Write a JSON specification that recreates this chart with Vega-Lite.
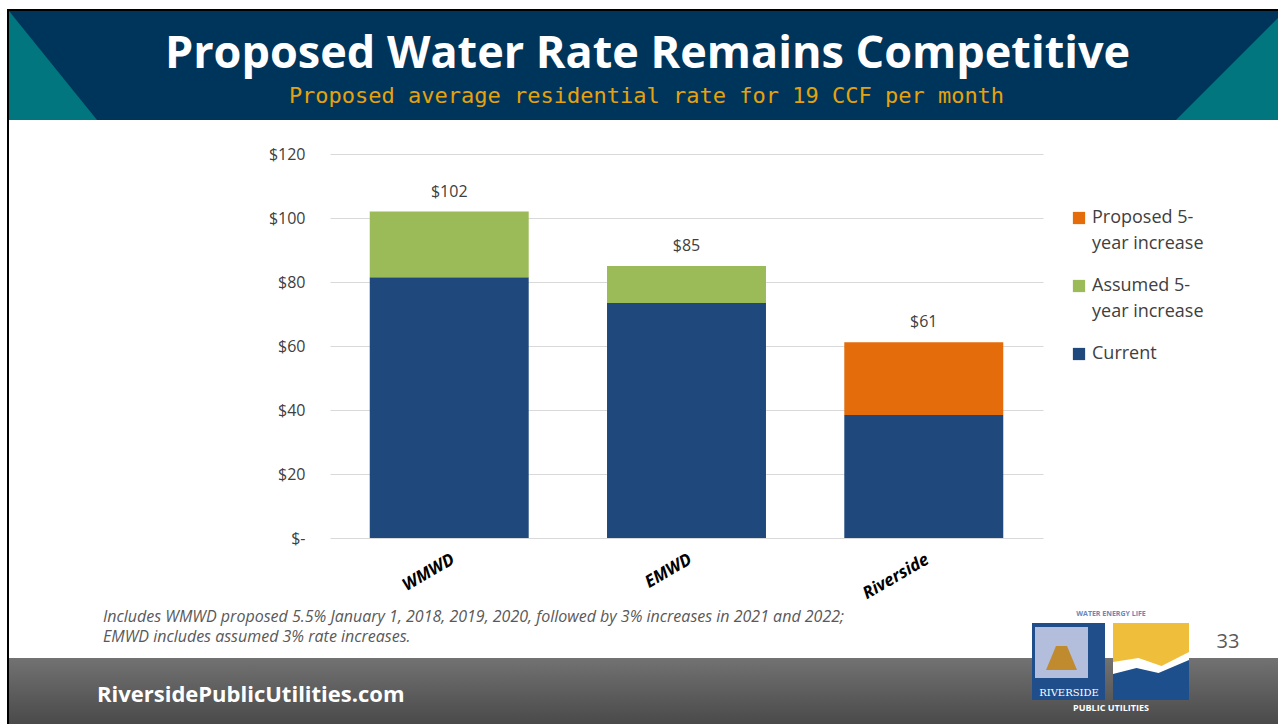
{
  "$schema": "https://vega.github.io/schema/vega-lite/v6.json",
  "width": 713,
  "height": 384,
  "autosize": {"type": "none"},
  "padding": {"left": 330, "top": 154, "right": 235, "bottom": 186},
  "background": "white",
  "config": {"font": "Open Sans", "view": {"stroke": null}},
  "datasets": {
    "rates": [
      {"utility": "WMWD", "component": "Current", "value": 81.5},
      {"utility": "WMWD", "component": "Assumed 5-year increase", "value": 20.5},
      {"utility": "EMWD", "component": "Current", "value": 73.4},
      {"utility": "EMWD", "component": "Assumed 5-year increase", "value": 11.6},
      {"utility": "Riverside", "component": "Current", "value": 38.4},
      {"utility": "Riverside", "component": "Proposed 5-year increase", "value": 22.8}
    ],
    "slide": [
      {
        "title": "Proposed Water Rate Remains Competitive",
        "subtitle": "Proposed average residential rate for 19 CCF per month",
        "note": "Includes WMWD proposed 5.5% January 1, 2018, 2019, 2020, followed by 3% increases in 2021 and 2022;\nEMWD includes assumed 3% rate increases.",
        "page": "33",
        "site": "RiversidePublicUtilities.com",
        "logoTop": "WATER  ENERGY  LIFE",
        "logoCity": "RIVERSIDE",
        "logoBottom": "PUBLIC UTILITIES"
      }
    ]
  },
  "layer": [
    {"data": {"name": "slide"}, "mark": {"type": "point", "shape": "M -6.775 -3.35 L 5.915 -3.35 L 5.915 -2.26 L -6.775 -2.26 Z", "size": 40000, "filled": true, "fill": "#00355b", "opacity": 1, "strokeWidth": 0}, "encoding": {}},
    {"data": {"name": "slide"}, "mark": {"type": "point", "shape": "M -6.775 -3.35 L -6.775 -2.26 L -5.895 -2.26 Z", "size": 40000, "filled": true, "fill": "#02767e", "opacity": 1, "strokeWidth": 0}, "encoding": {}},
    {"data": {"name": "slide"}, "mark": {"type": "point", "shape": "M 5.915 -3.28 L 5.915 -2.26 L 4.895 -2.26 Z", "size": 40000, "filled": true, "fill": "#02767e", "opacity": 1, "strokeWidth": 0}, "encoding": {}},
    {"data": {"name": "slide"}, "mark": {"type": "text", "fontSize": 45, "fontWeight": "bold", "color": "white", "align": "center", "baseline": "alphabetic", "dx": -39, "dy": -278}, "encoding": {"text": {"field": "title"}}},
    {"data": {"name": "slide"}, "mark": {"type": "text", "font": "DejaVu Sans Mono", "fontSize": 22, "color": "#e6a20c", "align": "center", "baseline": "alphabetic", "dx": -40, "dy": -243}, "encoding": {"text": {"field": "subtitle"}}},
    {
      "data": {"name": "rates"},
      "mark": {"type": "bar"},
      "encoding": {
        "x": {
          "field": "utility", "type": "nominal", "sort": ["WMWD", "EMWD", "Riverside"],
          "scale": {"paddingInner": 0.33, "paddingOuter": 0.1675},
          "axis": {"title": null, "labelAngle": -30, "labelFontSize": 17, "labelFontWeight": "bold", "labelFontStyle": "italic", "labelColor": "#000000", "domain": false, "ticks": false, "labelPadding": 13}
        },
        "y": {
          "field": "value", "type": "quantitative", "stack": "zero",
          "scale": {"domain": [0, 120], "nice": false},
          "axis": {"title": null, "values": [0, 20, 40, 60, 80, 100, 120], "labelExpr": "datum.value == 0 ? '$-' : '$' + datum.value", "domain": false, "ticks": false, "labelPadding": 25, "labelFontSize": 16, "labelColor": "#404040", "gridColor": "#d9d9d9", "gridWidth": 1}
        },
        "order": {"field": "value", "type": "quantitative", "sort": "descending"},
        "color": {
          "field": "component", "type": "nominal",
          "scale": {"domain": ["Proposed 5-year increase", "Assumed 5-year increase", "Current"], "range": ["#e46c0a", "#9bbb59", "#1f497d"]},
          "legend": {
            "title": null, "orient": "none", "legendX": 740, "legendY": 55,
            "symbolType": "square", "symbolSize": 150, "symbolStrokeWidth": 0,
            "labelFontSize": 18, "labelColor": "#404040", "labelOffset": 4, "rowPadding": 24, "padding": 0, "labelLimit": 200,
            "labelExpr": "indexof(datum.label, '-') > 0 ? [split(datum.label, '-')[0] + '-', split(datum.label, '-')[1]] : datum.label",
            "encode": {"labels": {"update": {"lineHeight": {"value": 26}}}}
          }
        }
      }
    },
    {
      "data": {"name": "rates"},
      "transform": [{"aggregate": [{"op": "sum", "field": "value", "as": "total"}], "groupby": ["utility"]}],
      "mark": {"type": "text", "dy": -20, "fontSize": 16, "color": "#404040", "baseline": "middle"},
      "encoding": {
        "x": {"field": "utility", "type": "nominal", "sort": ["WMWD", "EMWD", "Riverside"]},
        "y": {"field": "total", "type": "quantitative"},
        "text": {"field": "total", "type": "quantitative", "format": "$,.0f"}
      }
    },
    {"data": {"name": "slide"}, "mark": {"type": "text", "align": "left", "baseline": "alphabetic", "dx": -583.5, "dy": 275.5, "fontSize": 16, "fontStyle": "italic", "color": "#595959", "lineBreak": "\n", "lineHeight": 20}, "encoding": {"text": {"field": "note"}}},
    {"data": {"name": "slide"}, "mark": {"type": "text", "align": "center", "baseline": "alphabetic", "dx": 541.5, "dy": 302, "fontSize": 20, "color": "#595959"}, "encoding": {"text": {"field": "page"}}},
    {"data": {"name": "slide"}, "mark": {"type": "point", "shape": "M -6.775 3.12 L 5.915 3.12 L 5.915 3.78 L -6.775 3.78 Z", "size": 40000, "filled": true, "fill": {"gradient": "linear", "x1": 0, "y1": 0, "x2": 0, "y2": 1, "stops": [{"offset": 0, "color": "#727272"}, {"offset": 1, "color": "#4a4a4a"}]}, "opacity": 1, "strokeWidth": 0}, "encoding": {}},
    {"data": {"name": "slide"}, "mark": {"type": "text", "align": "left", "baseline": "alphabetic", "dx": -589.5, "dy": 355.7, "fontSize": 22, "fontWeight": "bold", "color": "white"}, "encoding": {"text": {"field": "site"}}},
    {"data": {"name": "slide"}, "mark": {"type": "point", "shape": "M 3.455 2.77 L 4.185 2.77 L 4.185 3.54 L 3.455 3.54 Z", "size": 40000, "filled": true, "fill": "#1f4e8a", "opacity": 1, "strokeWidth": 0}, "encoding": {}},
    {"data": {"name": "slide"}, "mark": {"type": "point", "shape": "M 3.485 2.81 L 4.015 2.81 L 4.015 3.32 L 3.485 3.32 Z", "size": 40000, "filled": true, "fill": "#b3bedc", "opacity": 1, "strokeWidth": 0}, "encoding": {}},
    {"data": {"name": "slide"}, "mark": {"type": "point", "shape": "M 3.695 3.00 L 3.805 3.00 L 3.905 3.24 L 3.595 3.24 Z", "size": 40000, "filled": true, "fill": "#c08a2e", "opacity": 1, "strokeWidth": 0}, "encoding": {}},
    {"data": {"name": "slide"}, "mark": {"type": "point", "shape": "M 4.265 2.77 L 5.025 2.77 L 5.025 3.54 L 4.265 3.54 Z", "size": 40000, "filled": true, "fill": "#ffffff", "opacity": 1, "strokeWidth": 0}, "encoding": {}},
    {"data": {"name": "slide"}, "mark": {"type": "point", "shape": "M 4.265 2.77 L 5.025 2.77 L 5.025 3.06 L 4.75 3.20 L 4.52 3.12 L 4.265 3.16 Z", "size": 40000, "filled": true, "fill": "#efbe3b", "opacity": 1, "strokeWidth": 0}, "encoding": {}},
    {"data": {"name": "slide"}, "mark": {"type": "point", "shape": "M 4.265 3.28 L 4.50 3.22 L 4.72 3.27 L 5.025 3.14 L 5.025 3.54 L 4.265 3.54 Z", "size": 40000, "filled": true, "fill": "#1c4f8c", "opacity": 1, "strokeWidth": 0}, "encoding": {}},
    {"data": {"name": "slide"}, "mark": {"type": "text", "align": "center", "baseline": "middle", "dx": 424.5, "dy": 268, "fontSize": 7, "fontWeight": "bold", "color": "#6b86b8"}, "encoding": {"text": {"field": "logoTop"}}},
    {"data": {"name": "slide"}, "mark": {"type": "text", "align": "center", "baseline": "middle", "dx": 382.5, "dy": 347, "fontSize": 10, "font": "DejaVu Serif", "color": "white"}, "encoding": {"text": {"field": "logoCity"}}},
    {"data": {"name": "slide"}, "mark": {"type": "text", "align": "center", "baseline": "middle", "dx": 424.5, "dy": 362, "fontSize": 9, "fontWeight": "bold", "color": "white"}, "encoding": {"text": {"field": "logoBottom"}}},
    {"data": {"name": "slide"}, "mark": {"type": "point", "shape": "M -6.785 3.78 L -6.785 -3.36 L 5.915 -3.36", "size": 40000, "filled": false, "stroke": "#000000", "strokeWidth": 2, "opacity": 1}, "encoding": {}}
  ]
}
